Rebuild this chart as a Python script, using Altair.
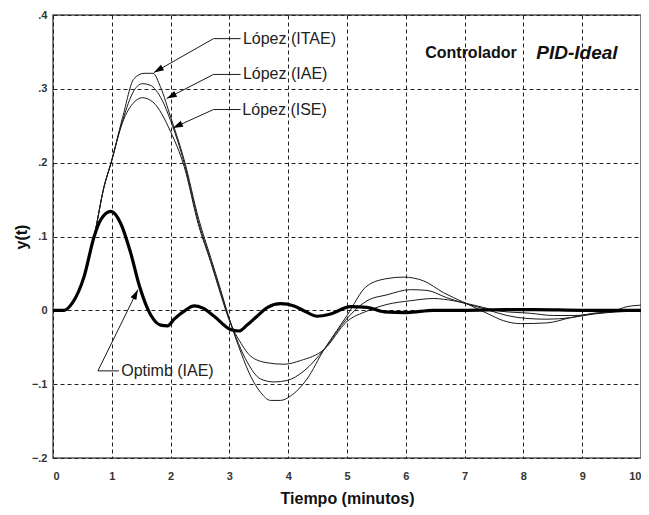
import altair as alt
import pandas as pd

# ---- data ----
itae_t = [0, 0.19, 0.33, 0.53, 0.70, 0.87, 0.985, 1.18, 1.38, 1.55, 1.70, 1.83, 2.0, 2.23, 2.48, 2.68, 2.85,
          3.0, 3.2, 3.36, 3.53, 3.70, 3.87, 4.04, 4.32, 4.61, 4.83, 5.0, 5.34, 5.68, 5.96, 6.3, 6.64, 6.98,
          7.38, 7.66, 7.95, 8.4, 8.8, 9.19, 9.53, 9.76, 10]
itae_y = [0, 0, 0.010, 0.046, 0.100, 0.168, 0.199, 0.260, 0.314, 0.321, 0.321, 0.302, 0.262, 0.204, 0.123,
          0.072, 0.028, -0.012, -0.058, -0.089, -0.111, -0.122, -0.122, -0.116, -0.093, -0.053, -0.027,
          -0.007, 0.033, 0.043, 0.045, 0.040, 0.024, 0.011, -0.004, -0.014, -0.018, -0.017, -0.010, -0.004,
          -0.001, 0.005, 0.007]

iae_t = [0, 0.19, 0.33, 0.53, 0.70, 0.87, 0.985, 1.18, 1.38, 1.52, 1.65, 1.86, 2.0, 2.23, 2.48, 2.68, 2.85,
         3.0, 3.31, 3.53, 3.76, 3.98, 4.27, 4.61, 5.0, 5.34, 5.68, 6.08, 6.36, 6.7, 6.98, 7.38, 7.72, 8.06,
         8.4, 8.8, 9.19, 9.64, 10]
iae_y = [0, 0, 0.010, 0.046, 0.100, 0.168, 0.199, 0.256, 0.298, 0.307, 0.305, 0.284, 0.257, 0.200, 0.118,
         0.068, 0.025, -0.012, -0.071, -0.093, -0.097, -0.095, -0.082, -0.053, -0.011, 0.013, 0.021, 0.028,
         0.027, 0.017, 0.010, 0.001, -0.007, -0.011, -0.012, -0.010, -0.005, -0.002, -0.001]

ise_t = [0, 0.19, 0.33, 0.53, 0.70, 0.87, 0.985, 1.18, 1.38, 1.52, 1.70, 2.0, 2.23, 2.48, 2.68, 2.85, 3.0,
         3.2, 3.36, 3.64, 3.93, 4.21, 4.61, 5.0, 5.34, 5.68, 6.08, 6.47, 6.81, 7.21, 7.6, 8.12, 8.51, 8.87,
         9.25, 9.64, 10]
ise_y = [0, 0, 0.010, 0.046, 0.100, 0.168, 0.199, 0.254, 0.282, 0.288, 0.282, 0.242, 0.195, 0.114, 0.066,
         0.022, -0.014, -0.045, -0.062, -0.071, -0.073, -0.068, -0.053, -0.015, -0.001, 0.008, 0.013, 0.016,
         0.013, 0.006, -0.001, -0.004, -0.007, -0.007, -0.004, -0.001, 0.001]

optimb_t = [0, 0.19, 0.33, 0.53, 0.70, 0.815, 0.985, 1.15, 1.32, 1.47, 1.66, 1.83, 1.95, 2.06, 2.25, 2.4,
            2.55, 2.74, 3.02, 3.16, 3.3, 3.47, 3.65, 3.87, 4.1, 4.3, 4.49, 4.72, 5.06, 5.34, 5.63, 6.02,
            6.47, 7.04, 7.7, 8.2, 9.0, 10]
optimb_y = [0, 0, 0.010, 0.046, 0.100, 0.123, 0.134, 0.118, 0.078, 0.033, -0.006, -0.020, -0.021, -0.012,
            0.000, 0.006, 0.003, -0.008, -0.026, -0.028, -0.020, -0.008, 0.004, 0.009, 0.006, -0.002,
            -0.008, -0.005, 0.005, 0.004, -0.002, -0.003, 0.000, 0.000, 0.001, 0.001, 0.000, 0.000]

# annotations: label, text position, bend point, arrow tip, arrow angle
ann_labels = ["López (ITAE)", "López (IAE)", "López (ISE)", "Optimb (IAE)"]
ann_text_t = [3.23, 3.23, 3.22, 1.16]
ann_text_y = [0.368, 0.3195, 0.272, -0.082]
ann_hend_t = [3.19, 3.19, 3.19, 1.12]
ann_bend_t = [2.73, 2.73, 2.73, 0.764]
ann_bend_y = [0.368, 0.3195, 0.272, -0.082]
ann_tip_t = [1.715, 1.935, 2.04, 1.443]
ann_tip_y = [0.322, 0.287, 0.247, 0.028]
ann_angle = [240, 243, 245, 26]

x_ticks = list(range(0, 11))
y_ticks = [-0.2, -0.1, 0.0, 0.1, 0.2, 0.3, 0.4]

FONT = "Liberation Sans"

# ---- tables ----
rows = []
for name, ts, ys in [("López (ITAE)", itae_t, itae_y), ("López (IAE)", iae_t, iae_y),
                     ("López (ISE)", ise_t, ise_y)]:
    for t, y in zip(ts, ys):
        rows.append({"t": t, "y": y, "serie": name})
thin_df = pd.DataFrame(rows)
thick_df = pd.DataFrame({"t": optimb_t, "y": optimb_y})

seg_rows = []
for i in range(len(ann_labels)):
    seg_rows.append({"t": ann_bend_t[i], "y": ann_bend_y[i], "t2": ann_hend_t[i], "y2": ann_bend_y[i]})
    seg_rows.append({"t": ann_bend_t[i], "y": ann_bend_y[i], "t2": ann_tip_t[i], "y2": ann_tip_y[i]})
seg_df = pd.DataFrame(seg_rows)
tip_df = pd.DataFrame({"t": ann_tip_t, "y": ann_tip_y, "ang": ann_angle})
lab_df = pd.DataFrame({"t": ann_text_t, "y": ann_text_y, "label": ann_labels})
title_df = pd.DataFrame({"t": [6.33], "y": [0.348], "label": ["Controlador"]})
title2_df = pd.DataFrame({"t": [8.22], "y": [0.348], "label": ["PID-Ideal"]})

xscale = alt.Scale(domain=[0, 10], nice=False, zero=False)
yscale = alt.Scale(domain=[-0.2, 0.4], nice=False, zero=False)

GRID = dict(grid=True, gridColor="#222", gridDash=[4, 3], gridWidth=1, gridOpacity=1)

xaxis = alt.Axis(values=x_ticks, title="Tiempo (minutos)", ticks=False, domain=False,
                 labelPadding=12, labelFont=FONT, labelFontSize=11, labelFontWeight="bold",
                 labelColor="#333", titleFont=FONT, titleFontSize=16, titleFontWeight="bold",
                 titleColor="#111", titleY=40, titleBaseline="middle", **GRID)
yaxis = alt.Axis(values=y_ticks, title="y(t)", ticks=False, domain=False,
                 labelPadding=6, labelFont=FONT, labelFontSize=11, labelFontWeight="bold",
                 labelColor="#333",
                 labelExpr="datum.value == 0 ? '0' : replace(format(datum.value, '.1f'), '0.', '.')",
                 titleFont=FONT, titleFontSize=16, titleFontWeight="bold", titleColor="#111",
                 titleX=-32, titleBaseline="middle", **GRID)

X = alt.X("t:Q", scale=xscale, axis=xaxis)
Y = alt.Y("y:Q", scale=yscale, axis=yaxis)

thin = alt.Chart(thin_df).mark_line(color="#1a1a1a", strokeWidth=1, interpolate="monotone").encode(
    x=X, y=Y, detail="serie:N")
thick = alt.Chart(thick_df).mark_line(color="black", strokeWidth=3.2, interpolate="monotone").encode(
    x=X, y=Y)
segs = alt.Chart(seg_df).mark_rule(color="#1a1a1a", strokeWidth=1).encode(
    x=X, y=Y, x2="t2:Q", y2="y2:Q")
tips = alt.Chart(tip_df).mark_point(shape="M0,0L0.32,1L-0.32,1Z", filled=True, size=400,
                                    color="black", opacity=1).encode(
    x=X, y=Y, angle=alt.Angle("ang:Q", scale=None))
labs = alt.Chart(lab_df).mark_text(align="left", baseline="middle", font=FONT, fontSize=16,
                                   color="#222").encode(x=X, y=Y, text="label:N")
ttl = alt.Chart(title_df).mark_text(align="left", baseline="middle", font=FONT, fontSize=16,
                                    fontWeight="bold", color="#111").encode(x=X, y=Y, text="label:N")
ttl2 = alt.Chart(title2_df).mark_text(align="left", baseline="middle", font=FONT, fontSize=19,
                                      fontWeight="bold", fontStyle="italic", color="#111").encode(
    x=X, y=Y, text="label:N")

chart = alt.layer(thin, thick, segs, tips, labs, ttl, ttl2).properties(
    width=588, height=443,
    background="white",
    autosize=alt.AutoSizeParams(type="none"),
    padding={"left": 45, "top": 7, "right": 0, "bottom": 49},
).configure_view(stroke="#555", strokeWidth=1.5)

chart.save("out.html", embed_options={"renderer": "svg", "actions": False})
